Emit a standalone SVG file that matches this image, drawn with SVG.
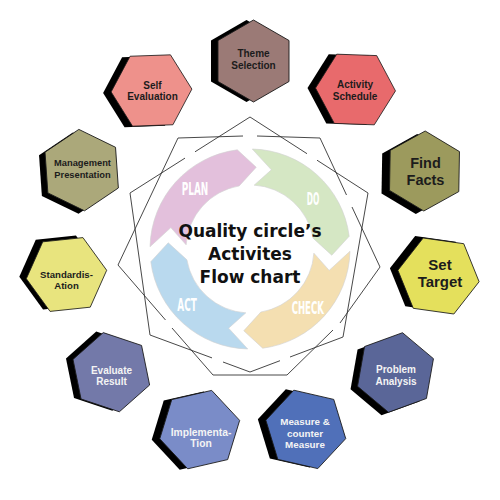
<svg xmlns="http://www.w3.org/2000/svg" xmlns:xlink="http://www.w3.org/1999/xlink" width="500" height="500" viewBox="0 0 500 500">
<style>
.sh{fill:#000}
.hx{stroke:#1a1a1a;stroke-width:0.8}
.lb{font-family:"Liberation Sans",Arial,sans-serif;font-weight:bold;text-anchor:middle}
.dk{fill:#1c1c1c}
.wt{fill:#f4f4f4}
.seg{stroke:#d2d2d2;stroke-width:0.6}
.rl{font-family:"Liberation Sans Narrow","DejaVu Sans Condensed","Liberation Sans",sans-serif;font-weight:bold;font-size:17px;fill:#ffffff;text-anchor:middle}
.ttl{font-family:"DejaVu Sans",sans-serif;font-weight:bold;font-size:17px;fill:#111;text-anchor:middle}
.frame{fill:none;stroke:#333;stroke-width:0.9}
</style>
<defs>
<polygon id="hx" points="40,0 20,34.64 -20,34.64 -40,0 -20,-34.64 20,-34.64"/>
<path id="seg" d="M-99.72,-7.5 A100,100 0 0 1 -7.5,-99.72 L10.5,-81.33 L-7.5,-63.56 A64,64 0 0 0 -63.56,-7.5 L-77.93,-25.5 Z"/>
</defs>
<rect width="500" height="500" fill="#ffffff"/>

<g id="outline-star">
<path class="frame" d="M250,117 L195,151.8 M185,158.1 L130,193 L150,335 L212,357.9 M223,362 L250,372 L280,360.7 M290,357 L343,337 L368,193 L317,160.2 M307,153.7 L250,117"/>
<path class="frame" d="M178,138 L243,136 M257,136 L320,138 L346.5,195 M352,207 L380,267 L340,323 M333,330 L287,375 L213,375 L172,328 M165.5,320 L118,265 L178,138"/>
</g>

<g id="cycle" transform="translate(250,249) rotate(-3)">
<use xlink:href="#seg" class="seg" fill="#e3c0dc"/>
<use xlink:href="#seg" class="seg" fill="#d5e7c4" transform="rotate(90)"/>
<use xlink:href="#seg" class="seg" fill="#f4dfb1" transform="rotate(180)"/>
<use xlink:href="#seg" class="seg" fill="#b9d9ee" transform="rotate(270)"/>
</g>
<g id="cycle-labels">
<text class="rl" x="195" y="195" textLength="26.6" lengthAdjust="spacingAndGlyphs">PLAN</text>
<text class="rl" x="313" y="205" textLength="12.6" lengthAdjust="spacingAndGlyphs">DO</text>
<text class="rl" x="307.8" y="314" textLength="32.3" lengthAdjust="spacingAndGlyphs">CHECK</text>
<text class="rl" x="187" y="310.7" textLength="19.4" lengthAdjust="spacingAndGlyphs">ACT</text>
</g>

<g id="title">
<text class="ttl" x="250" y="236.7">Quality circle’s</text>
<text class="ttl" x="250" y="260">Activites</text>
<text class="ttl" x="250" y="283.3">Flow chart</text>
</g>

<g id="theme-selection">
<use xlink:href="#hx" class="sh" transform="translate(246.5,61) rotate(30) scale(1.025)"/>
<use xlink:href="#hx" class="hx" fill="#9b7a76" transform="translate(253.5,61) rotate(30) scale(1.025)"/>
<text class="lb dk" font-size="10" x="253.5" y="57.3">Theme</text>
<text class="lb dk" font-size="10" x="253.5" y="69.3">Selection</text>
</g>

<g id="activity-schedule">
<use xlink:href="#hx" class="sh" transform="translate(347.5,89.5) rotate(2)"/>
<use xlink:href="#hx" class="hx" fill="#e86a6c" transform="translate(355.5,89.5) rotate(2)"/>
<text class="lb dk" font-size="10" x="355" y="88">Activity</text>
<text class="lb dk" font-size="10" x="355" y="100">Schedule</text>
</g>

<g id="self-evaluation">
<use xlink:href="#hx" class="sh" transform="translate(143.5,91.5) rotate(-2) scale(1.01)"/>
<use xlink:href="#hx" class="hx" fill="#ee918b" transform="translate(151.5,90.5) rotate(-2) scale(1.01)"/>
<text class="lb dk" font-size="10" x="152.5" y="88.8">Self</text>
<text class="lb dk" font-size="10" x="152.5" y="100">Evaluation</text>
</g>

<g id="find-facts">
<use xlink:href="#hx" class="sh" transform="translate(416.5,174) rotate(31)"/>
<use xlink:href="#hx" class="hx" fill="#9c9a5d" transform="translate(424.5,171) rotate(31)"/>
<text class="lb dk" font-size="14.5" x="425.5" y="168">Find</text>
<text class="lb dk" font-size="14.5" x="425.5" y="185">Facts</text>
</g>

<g id="set-target">
<use xlink:href="#hx" class="sh" transform="translate(430.5,274) rotate(8) scale(1.025)"/>
<use xlink:href="#hx" class="hx" fill="#e4e05c" transform="translate(438.5,276) rotate(8) scale(1.025)"/>
<text class="lb dk" font-size="15" x="440" y="270">Set</text>
<text class="lb dk" font-size="15" x="440" y="287">Target</text>
</g>

<g id="problem-analysis">
<use xlink:href="#hx" class="sh" transform="translate(388.5,375.5) rotate(40) scale(1.01)"/>
<use xlink:href="#hx" class="hx" fill="#5a6698" transform="translate(395.5,372.5) rotate(40) scale(1.01)"/>
<text class="lb wt" font-size="10" x="396" y="373.3">Problem</text>
<text class="lb wt" font-size="10" x="396" y="384.5">Analysis</text>
</g>

<g id="measure-counter-measure">
<use xlink:href="#hx" class="sh" transform="translate(297.8,428.4) rotate(13) scale(1.025)"/>
<use xlink:href="#hx" class="hx" fill="#5070b9" transform="translate(305.8,429.4) rotate(13) scale(1.025)"/>
<text class="lb wt" font-size="9.8" x="305" y="425">Measure &amp;</text>
<text class="lb wt" font-size="9.8" x="305" y="436.7">counter</text>
<text class="lb wt" font-size="9.8" x="305" y="448">Measure</text>
</g>

<g id="implementation">
<use xlink:href="#hx" class="sh" transform="translate(191.7,430.6) rotate(-13) scale(1.025)"/>
<use xlink:href="#hx" class="hx" fill="#7a8cc8" transform="translate(199.7,429.6) rotate(-13) scale(1.025)"/>
<text class="lb wt" font-size="10.3" x="201" y="435.7">Implementa-</text>
<text class="lb wt" font-size="10.3" x="201" y="447.3">Tion</text>
</g>

<g id="evaluate-result">
<use xlink:href="#hx" class="sh" transform="translate(104.3,371.2) rotate(18.5) scale(1.01)"/>
<use xlink:href="#hx" class="hx" fill="#7379a9" transform="translate(111.3,372.2) rotate(18.5) scale(1.01)"/>
<text class="lb wt" font-size="10" x="111.5" y="374">Evaluate</text>
<text class="lb wt" font-size="10" x="111.5" y="385.3">Result</text>
</g>

<g id="standardisation">
<use xlink:href="#hx" class="sh" transform="translate(59.5,272.5) rotate(-6) scale(1.01)"/>
<use xlink:href="#hx" class="hx" fill="#e8e47e" transform="translate(66.5,274.5) rotate(-6) scale(1.01)"/>
<text class="lb dk" font-size="9.6" x="66.5" y="278.3">Standardis-</text>
<text class="lb dk" font-size="9.6" x="66.5" y="289.3">Ation</text>
</g>

<g id="management-presentation">
<use xlink:href="#hx" class="sh" transform="translate(75.7,173.1) rotate(26) scale(1.02)"/>
<use xlink:href="#hx" class="hx" fill="#aba87a" transform="translate(81.7,170.1) rotate(26) scale(1.02)"/>
<text class="lb dk" font-size="9.3" x="82.5" y="166.3">Management</text>
<text class="lb dk" font-size="9.3" x="82.5" y="178">Presentation</text>
</g>
</svg>
